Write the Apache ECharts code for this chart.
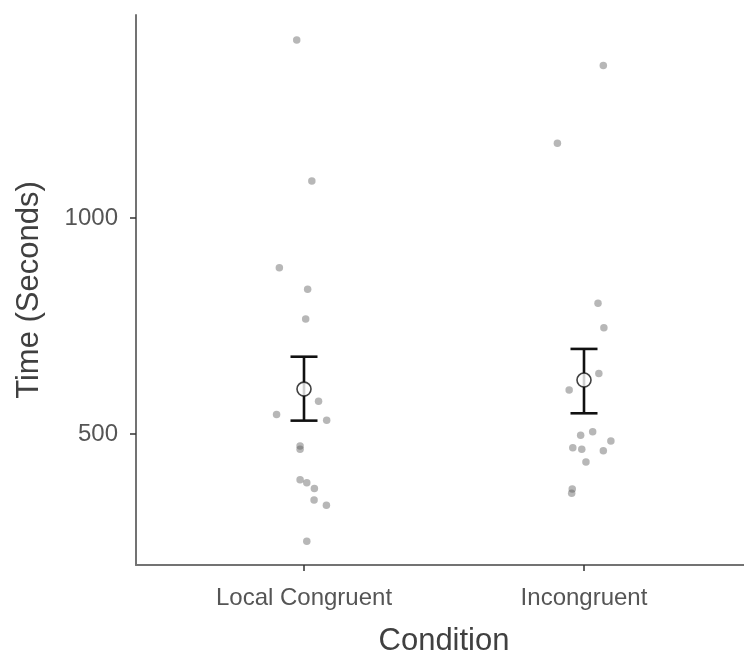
<!DOCTYPE html>
<html>
<head>
<meta charset="utf-8">
<script src="https://cdn.jsdelivr.net/npm/echarts@6/dist/echarts.min.js"></script>
<style>
html,body{margin:0;padding:0;background:#fff;}
#chart{width:744px;height:654px;}
</style>
</head>
<body>
<div id="chart"></div>
<script>
// Categories and tick labels
const categories = ['Local Congruent', 'Incongruent'];
const yTicks = [500, 1000];

const localTimes  = [1412, 1086, 885, 835, 766, 576, 545, 532, 472, 465, 394, 387, 374, 347, 335, 252];
const localJitter = [-0.026, 0.028, -0.088, 0.013, 0.006, 0.052, -0.098, 0.081, -0.014, -0.014, -0.014, 0.010, 0.037, 0.036, 0.080, 0.010];
const incongTimes  = [1353, 1173, 803, 746, 640, 602, 505, 497, 484, 468, 465, 461, 435, 373, 363];
const incongJitter = [0.069, -0.095, 0.050, 0.071, 0.053, -0.053, 0.031, -0.012, 0.096, -0.040, -0.008, 0.069, 0.007, -0.042, -0.044];

// Means and error-bar limits
const means  = [604, 625];
const errLow = [531, 548];
const errHigh = [679, 697];

const points = [];
localTimes.forEach((v, i) => points.push([1 + localJitter[i], v]));
incongTimes.forEach((v, i) => points.push([2 + incongJitter[i], v]));
const meanData = means.map((m, i) => [i + 1, m]);
const errData = means.map((m, i) => [i + 1, errLow[i], errHigh[i]]);

const FONT = '"Liberation Sans", Arial, sans-serif';
const chart = echarts.init(document.getElementById('chart'), null, {renderer: 'canvas'});
chart.setOption({
  backgroundColor: '#ffffff',
  animation: false,
  grid: {left: 136, top: 15, width: 616, height: 550, containLabel: false, outerBoundsMode: 'none'},
  xAxis: {
    type: 'value', min: 0.4, max: 2.6,
    splitLine: {show: false},
    axisLine: {show: true, lineStyle: {color: '#737373', width: 2}},
    axisTick: {show: true, customValues: [1, 2], length: 6, lineStyle: {color: '#333', width: 1.5}},
    axisLabel: {
      show: true, customValues: [1, 2], margin: 21,
      formatter: v => categories[Math.round(v) - 1] || '',
      fontFamily: FONT, fontSize: 24, color: '#555555'
    },
    name: 'Condition', nameLocation: 'middle', nameGap: 61,
    nameTextStyle: {fontFamily: FONT, fontSize: 31, color: '#404040'}
  },
  yAxis: {
    type: 'value', min: 196.8, max: 1470,
    splitLine: {show: false},
    axisLine: {show: true, lineStyle: {color: '#737373', width: 2}},
    axisTick: {show: true, customValues: yTicks, length: 6, lineStyle: {color: '#333', width: 1.5}},
    axisLabel: {
      show: true, customValues: yTicks, margin: 18,
      formatter: v => String(v),
      fontFamily: FONT, fontSize: 24, color: '#555555'
    },
    name: 'Time (Seconds)', nameLocation: 'middle', nameGap: 91,
    nameTextStyle: {fontFamily: FONT, fontSize: 31, color: '#404040'}
  },
  series: [
    {
      type: 'scatter', data: points, symbol: 'circle', symbolSize: 7.5,
      itemStyle: {color: 'rgba(90,90,90,0.55)'}, z: 2
    },
    {
      type: 'custom', data: errData, encode: {x: 0, y: [1, 2]}, z: 3,
      renderItem: function (params, api) {
        const x = api.value(0);
        const pLo = api.coord([x, api.value(1)]);
        const pHi = api.coord([x, api.value(2)]);
        const hw = 13.5;
        const st = {stroke: '#111', lineWidth: 2.6};
        return {
          type: 'group',
          children: [
            {type: 'line', shape: {x1: pLo[0], y1: pLo[1], x2: pHi[0], y2: pHi[1]}, style: st},
            {type: 'line', shape: {x1: pLo[0] - hw, y1: pLo[1], x2: pLo[0] + hw, y2: pLo[1]}, style: st},
            {type: 'line', shape: {x1: pHi[0] - hw, y1: pHi[1], x2: pHi[0] + hw, y2: pHi[1]}, style: st}
          ]
        };
      }
    },
    {
      type: 'scatter', data: meanData, symbol: 'circle', symbolSize: 14, z: 4,
      itemStyle: {color: '#ffffff', borderColor: '#111', borderWidth: 1.6}
    }
  ]
});
</script>
</body>
</html>
